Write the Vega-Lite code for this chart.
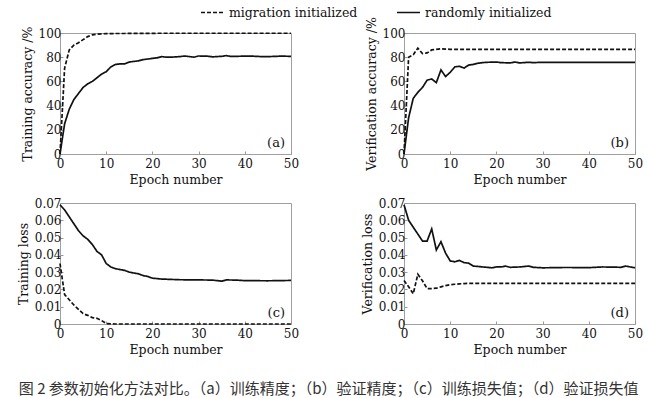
{
  "$schema": "https://vega.github.io/schema/vega-lite/v6.json",
  "autosize": {"type": "pad"},
  "padding": {"left": 16, "top": 0, "right": 4, "bottom": 0},
  "background": "white",
  "datasets": {
    "curves": [
      {"p": "a", "epoch": 0, "mig": 0, "rnd": 0},
      {"p": "a", "epoch": 1, "mig": 71, "rnd": 25},
      {"p": "a", "epoch": 2, "mig": 86, "rnd": 37},
      {"p": "a", "epoch": 3, "mig": 90, "rnd": 45},
      {"p": "a", "epoch": 4, "mig": 92, "rnd": 50},
      {"p": "a", "epoch": 5, "mig": 94.5, "rnd": 55},
      {"p": "a", "epoch": 6, "mig": 97, "rnd": 58},
      {"p": "a", "epoch": 7, "mig": 98.5, "rnd": 60},
      {"p": "a", "epoch": 8, "mig": 99, "rnd": 63},
      {"p": "a", "epoch": 9, "mig": 99.3, "rnd": 66},
      {"p": "a", "epoch": 10, "mig": 99.5, "rnd": 68},
      {"p": "a", "epoch": 11, "mig": 99.5, "rnd": 72},
      {"p": "a", "epoch": 12, "mig": 99.6, "rnd": 74},
      {"p": "a", "epoch": 13, "mig": 99.6, "rnd": 74.5},
      {"p": "a", "epoch": 14, "mig": 99.6, "rnd": 74.5},
      {"p": "a", "epoch": 15, "mig": 99.7, "rnd": 76},
      {"p": "a", "epoch": 16, "mig": 99.7, "rnd": 76.5},
      {"p": "a", "epoch": 17, "mig": 99.7, "rnd": 77},
      {"p": "a", "epoch": 18, "mig": 99.7, "rnd": 78},
      {"p": "a", "epoch": 19, "mig": 99.7, "rnd": 78.5},
      {"p": "a", "epoch": 20, "mig": 99.7, "rnd": 79},
      {"p": "a", "epoch": 21, "mig": 99.8, "rnd": 79.5},
      {"p": "a", "epoch": 22, "mig": 99.8, "rnd": 80.5},
      {"p": "a", "epoch": 23, "mig": 99.8, "rnd": 80},
      {"p": "a", "epoch": 24, "mig": 99.8, "rnd": 80},
      {"p": "a", "epoch": 26, "mig": 99.8, "rnd": 80.5},
      {"p": "a", "epoch": 27, "mig": 99.8, "rnd": 81},
      {"p": "a", "epoch": 29, "mig": 99.8, "rnd": 80},
      {"p": "a", "epoch": 30, "mig": 99.8, "rnd": 81},
      {"p": "a", "epoch": 32, "mig": 99.8, "rnd": 80.8},
      {"p": "a", "epoch": 33, "mig": 99.8, "rnd": 80.3},
      {"p": "a", "epoch": 35, "mig": 99.8, "rnd": 80.7},
      {"p": "a", "epoch": 36, "mig": 99.8, "rnd": 81.3},
      {"p": "a", "epoch": 37, "mig": 99.8, "rnd": 80.6},
      {"p": "a", "epoch": 40, "mig": 99.8, "rnd": 80.9},
      {"p": "a", "epoch": 42, "mig": 99.8, "rnd": 80.8},
      {"p": "a", "epoch": 44, "mig": 99.8, "rnd": 80.4},
      {"p": "a", "epoch": 46, "mig": 99.8, "rnd": 80.6},
      {"p": "a", "epoch": 48, "mig": 99.8, "rnd": 80.9},
      {"p": "a", "epoch": 50, "mig": 99.8, "rnd": 80.7},

      {"p": "b", "epoch": 0, "mig": 0, "rnd": 0},
      {"p": "b", "epoch": 1, "mig": 80, "rnd": 30},
      {"p": "b", "epoch": 2, "mig": 82, "rnd": 46},
      {"p": "b", "epoch": 3, "mig": 87.5, "rnd": 51},
      {"p": "b", "epoch": 4, "mig": 83, "rnd": 55},
      {"p": "b", "epoch": 5, "mig": 83.5, "rnd": 61},
      {"p": "b", "epoch": 6, "mig": 86, "rnd": 62},
      {"p": "b", "epoch": 7, "mig": 86.5, "rnd": 59},
      {"p": "b", "epoch": 8, "mig": 87, "rnd": 69.5},
      {"p": "b", "epoch": 9, "mig": 86.7, "rnd": 64},
      {"p": "b", "epoch": 10, "mig": 86.5, "rnd": 67.5},
      {"p": "b", "epoch": 11, "mig": 86.5, "rnd": 72},
      {"p": "b", "epoch": 12, "mig": 86.5, "rnd": 72.5},
      {"p": "b", "epoch": 13, "mig": 86.5, "rnd": 71},
      {"p": "b", "epoch": 14, "mig": 86.5, "rnd": 73.5},
      {"p": "b", "epoch": 15, "mig": 86.5, "rnd": 74},
      {"p": "b", "epoch": 16, "mig": 86.5, "rnd": 75},
      {"p": "b", "epoch": 17, "mig": 86.5, "rnd": 75.5},
      {"p": "b", "epoch": 18, "mig": 86.5, "rnd": 75.8},
      {"p": "b", "epoch": 20, "mig": 86.5, "rnd": 76},
      {"p": "b", "epoch": 21, "mig": 86.5, "rnd": 75.5},
      {"p": "b", "epoch": 23, "mig": 86.5, "rnd": 75.3},
      {"p": "b", "epoch": 24, "mig": 86.5, "rnd": 76},
      {"p": "b", "epoch": 25, "mig": 86.5, "rnd": 75.3},
      {"p": "b", "epoch": 27, "mig": 86.5, "rnd": 75.8},
      {"p": "b", "epoch": 28, "mig": 86.5, "rnd": 75.5},
      {"p": "b", "epoch": 30, "mig": 86.5, "rnd": 75.8},
      {"p": "b", "epoch": 40, "mig": 86.5, "rnd": 75.8},
      {"p": "b", "epoch": 50, "mig": 86.5, "rnd": 75.8},

      {"p": "c", "epoch": 0, "mig": 0.035, "rnd": 0.069},
      {"p": "c", "epoch": 1, "mig": 0.017, "rnd": 0.066},
      {"p": "c", "epoch": 2, "mig": 0.014, "rnd": 0.062},
      {"p": "c", "epoch": 3, "mig": 0.011, "rnd": 0.058},
      {"p": "c", "epoch": 4, "mig": 0.0085, "rnd": 0.054},
      {"p": "c", "epoch": 5, "mig": 0.006, "rnd": 0.051},
      {"p": "c", "epoch": 6, "mig": 0.005, "rnd": 0.049},
      {"p": "c", "epoch": 7, "mig": 0.0037, "rnd": 0.046},
      {"p": "c", "epoch": 8, "mig": 0.0033, "rnd": 0.042},
      {"p": "c", "epoch": 9, "mig": 0.002, "rnd": 0.04},
      {"p": "c", "epoch": 10, "mig": 0.0003, "rnd": 0.035},
      {"p": "c", "epoch": 11, "mig": 0.0001, "rnd": 0.033},
      {"p": "c", "epoch": 12, "mig": 0, "rnd": 0.032},
      {"p": "c", "epoch": 13, "mig": 0, "rnd": 0.0315},
      {"p": "c", "epoch": 14, "mig": 0, "rnd": 0.031},
      {"p": "c", "epoch": 15, "mig": 0, "rnd": 0.03},
      {"p": "c", "epoch": 16, "mig": 0, "rnd": 0.0295},
      {"p": "c", "epoch": 17, "mig": 0, "rnd": 0.029},
      {"p": "c", "epoch": 18, "mig": 0, "rnd": 0.028},
      {"p": "c", "epoch": 19, "mig": 0, "rnd": 0.0275},
      {"p": "c", "epoch": 20, "mig": 0, "rnd": 0.0265},
      {"p": "c", "epoch": 22, "mig": 0, "rnd": 0.026},
      {"p": "c", "epoch": 24, "mig": 0, "rnd": 0.0258},
      {"p": "c", "epoch": 26, "mig": 0, "rnd": 0.0256},
      {"p": "c", "epoch": 30, "mig": 0, "rnd": 0.0255},
      {"p": "c", "epoch": 33, "mig": 0, "rnd": 0.0254},
      {"p": "c", "epoch": 35, "mig": 0, "rnd": 0.0248},
      {"p": "c", "epoch": 36, "mig": 0, "rnd": 0.0255},
      {"p": "c", "epoch": 38, "mig": 0, "rnd": 0.0254},
      {"p": "c", "epoch": 40, "mig": 0, "rnd": 0.0251},
      {"p": "c", "epoch": 45, "mig": 0, "rnd": 0.025},
      {"p": "c", "epoch": 50, "mig": 0, "rnd": 0.0252},

      {"p": "d", "epoch": 0, "mig": 0.0252, "rnd": 0.069},
      {"p": "d", "epoch": 1, "mig": 0.0215, "rnd": 0.06},
      {"p": "d", "epoch": 2, "mig": 0.0175, "rnd": 0.056},
      {"p": "d", "epoch": 3, "mig": 0.0288, "rnd": 0.052},
      {"p": "d", "epoch": 4, "mig": 0.025, "rnd": 0.048},
      {"p": "d", "epoch": 5, "mig": 0.0205, "rnd": 0.048},
      {"p": "d", "epoch": 6, "mig": 0.0205, "rnd": 0.055},
      {"p": "d", "epoch": 7, "mig": 0.0207, "rnd": 0.0428},
      {"p": "d", "epoch": 8, "mig": 0.0215, "rnd": 0.0476},
      {"p": "d", "epoch": 9, "mig": 0.0222, "rnd": 0.041},
      {"p": "d", "epoch": 10, "mig": 0.0227, "rnd": 0.0365},
      {"p": "d", "epoch": 11, "mig": 0.023, "rnd": 0.036},
      {"p": "d", "epoch": 12, "mig": 0.0232, "rnd": 0.0368},
      {"p": "d", "epoch": 13, "mig": 0.0234, "rnd": 0.0355},
      {"p": "d", "epoch": 14, "mig": 0.0235, "rnd": 0.0352},
      {"p": "d", "epoch": 15, "mig": 0.0235, "rnd": 0.0335},
      {"p": "d", "epoch": 16, "mig": 0.0235, "rnd": 0.0333},
      {"p": "d", "epoch": 17, "mig": 0.0235, "rnd": 0.033},
      {"p": "d", "epoch": 18, "mig": 0.0235, "rnd": 0.0328},
      {"p": "d", "epoch": 19, "mig": 0.0235, "rnd": 0.0325},
      {"p": "d", "epoch": 20, "mig": 0.0235, "rnd": 0.033},
      {"p": "d", "epoch": 21, "mig": 0.0235, "rnd": 0.033},
      {"p": "d", "epoch": 22, "mig": 0.0235, "rnd": 0.0335},
      {"p": "d", "epoch": 23, "mig": 0.0235, "rnd": 0.0328},
      {"p": "d", "epoch": 25, "mig": 0.0235, "rnd": 0.033},
      {"p": "d", "epoch": 27, "mig": 0.0235, "rnd": 0.0335},
      {"p": "d", "epoch": 28, "mig": 0.0235, "rnd": 0.0328},
      {"p": "d", "epoch": 30, "mig": 0.0235, "rnd": 0.0325},
      {"p": "d", "epoch": 35, "mig": 0.0235, "rnd": 0.0327},
      {"p": "d", "epoch": 40, "mig": 0.0235, "rnd": 0.0326},
      {"p": "d", "epoch": 43, "mig": 0.0235, "rnd": 0.033},
      {"p": "d", "epoch": 47, "mig": 0.0235, "rnd": 0.0328},
      {"p": "d", "epoch": 48, "mig": 0.0235, "rnd": 0.0335},
      {"p": "d", "epoch": 50, "mig": 0.0235, "rnd": 0.0325}
    ],
    "labels": [
      {"p": "a", "epoch": 50, "value": 0, "label": "(a)"},
      {"p": "b", "epoch": 50, "value": 0, "label": "(b)"},
      {"p": "c", "epoch": 50, "value": 0, "label": "(c)"},
      {"p": "d", "epoch": 50, "value": 0, "label": "(d)"}
    ]
  },
  "bounds": "flush",
  "columns": 2,
  "spacing": {"row": 49, "column": 113},
  "concat": [
    {
      "width": 231, "height": 121,
      "layer": [
        {
          "data": {"name": "curves"},
          "transform": [{"filter": "datum.p == 'a'"}, {"fold": ["mig", "rnd"], "as": ["series", "value"]}],
          "mark": {"type": "line", "color": "#111", "strokeWidth": 1.7},
          "encoding": {
            "x": {"field": "epoch", "type": "quantitative", "scale": {"domain": [0, 50], "nice": false}, "axis": {"title": "Epoch number", "values": [0, 10, 20, 30, 40, 50], "tickCount": 10}},
            "y": {"field": "value", "type": "quantitative", "scale": {"domain": [0, 100], "nice": false}, "axis": {"title": "Training accuracy /%", "values": [0, 20, 40, 60, 80, 100], "tickCount": 10}},
            "strokeDash": {"field": "series", "type": "nominal", "scale": {"domain": ["mig", "rnd"], "range": [[4, 2], [1, 0]]},
              "legend": {"orient": "none", "legendX": 140, "legendY": -33, "direction": "horizontal", "title": null, "labelExpr": "datum.label == 'mig' ? 'migration initialized' : 'randomly initialized'"}}
          }
        },
        {
          "data": {"name": "labels"},
          "transform": [{"filter": "datum.p == 'a'"}],
          "mark": {"type": "text", "align": "right", "baseline": "bottom", "dx": -6, "dy": -4, "fontSize": 13, "font": "DejaVu Serif", "color": "#111"},
          "encoding": {"x": {"field": "epoch", "type": "quantitative"}, "y": {"field": "value", "type": "quantitative"}, "text": {"field": "label"}}
        }
      ]
    },
    {
      "width": 231, "height": 121,
      "layer": [
        {
          "data": {"name": "curves"},
          "transform": [{"filter": "datum.p == 'b'"}, {"fold": ["mig", "rnd"], "as": ["series", "value"]}],
          "mark": {"type": "line", "color": "#111", "strokeWidth": 1.7},
          "encoding": {
            "x": {"field": "epoch", "type": "quantitative", "scale": {"domain": [0, 50], "nice": false}, "axis": {"title": "Epoch number", "values": [0, 10, 20, 30, 40, 50], "tickCount": 10}},
            "y": {"field": "value", "type": "quantitative", "scale": {"domain": [0, 100], "nice": false}, "axis": {"title": "Verification accuracy /%", "values": [0, 20, 40, 60, 80, 100], "tickCount": 10}},
            "strokeDash": {"field": "series", "type": "nominal", "scale": {"domain": ["mig", "rnd"], "range": [[4, 2], [1, 0]]}}
          }
        },
        {
          "data": {"name": "labels"},
          "transform": [{"filter": "datum.p == 'b'"}],
          "mark": {"type": "text", "align": "right", "baseline": "bottom", "dx": -6, "dy": -4, "fontSize": 13, "font": "DejaVu Serif", "color": "#111"},
          "encoding": {"x": {"field": "epoch", "type": "quantitative"}, "y": {"field": "value", "type": "quantitative"}, "text": {"field": "label"}}
        }
      ]
    },
    {
      "width": 231, "height": 121,
      "layer": [
        {
          "data": {"name": "curves"},
          "transform": [{"filter": "datum.p == 'c'"}, {"fold": ["mig", "rnd"], "as": ["series", "value"]}],
          "mark": {"type": "line", "color": "#111", "strokeWidth": 1.7},
          "encoding": {
            "x": {"field": "epoch", "type": "quantitative", "scale": {"domain": [0, 50], "nice": false}, "axis": {"title": "Epoch number", "values": [0, 10, 20, 30, 40, 50], "tickCount": 10}},
            "y": {"field": "value", "type": "quantitative", "scale": {"domain": [0, 0.07], "nice": false}, "axis": {"title": "Training loss", "values": [0, 0.01, 0.02, 0.03, 0.04, 0.05, 0.06, 0.07], "format": "~g", "tickCount": 10}},
            "strokeDash": {"field": "series", "type": "nominal", "scale": {"domain": ["mig", "rnd"], "range": [[4, 2], [1, 0]]}}
          }
        },
        {
          "data": {"name": "labels"},
          "transform": [{"filter": "datum.p == 'c'"}],
          "mark": {"type": "text", "align": "right", "baseline": "bottom", "dx": -6, "dy": -4, "fontSize": 13, "font": "DejaVu Serif", "color": "#111"},
          "encoding": {"x": {"field": "epoch", "type": "quantitative"}, "y": {"field": "value", "type": "quantitative"}, "text": {"field": "label"}}
        }
      ]
    },
    {
      "width": 231, "height": 121,
      "layer": [
        {
          "data": {"name": "curves"},
          "transform": [{"filter": "datum.p == 'd'"}, {"fold": ["mig", "rnd"], "as": ["series", "value"]}],
          "mark": {"type": "line", "color": "#111", "strokeWidth": 1.7},
          "encoding": {
            "x": {"field": "epoch", "type": "quantitative", "scale": {"domain": [0, 50], "nice": false}, "axis": {"title": "Epoch number", "values": [0, 10, 20, 30, 40, 50], "tickCount": 10}},
            "y": {"field": "value", "type": "quantitative", "scale": {"domain": [0, 0.07], "nice": false}, "axis": {"title": "Verification loss", "values": [0, 0.01, 0.02, 0.03, 0.04, 0.05, 0.06, 0.07], "format": "~g", "tickCount": 10}},
            "strokeDash": {"field": "series", "type": "nominal", "scale": {"domain": ["mig", "rnd"], "range": [[4, 2], [1, 0]]}}
          }
        },
        {
          "data": {"name": "labels"},
          "transform": [{"filter": "datum.p == 'd'"}],
          "mark": {"type": "text", "align": "right", "baseline": "bottom", "dx": -6, "dy": -4, "fontSize": 13, "font": "DejaVu Serif", "color": "#111"},
          "encoding": {"x": {"field": "epoch", "type": "quantitative"}, "y": {"field": "value", "type": "quantitative"}, "text": {"field": "label"}}
        }
      ]
    }
  ],
  "resolve": {
    "scale": {"x": "independent", "y": "independent", "strokeDash": "shared"},
    "legend": {"strokeDash": "shared"}
  },
  "title": {
    "text": "图 2  参数初始化方法对比。（a）训练精度；（b）验证精度；（c）训练损失值；（d）验证损失值",
    "orient": "bottom",
    "anchor": "start",
    "font": "Noto Sans CJK SC",
    "fontSize": 15,
    "fontWeight": "normal",
    "color": "#333",
    "offset": 26,
    "dx": 2
  },
  "config": {
    "font": "DejaVu Serif",
    "view": {"stroke": "#a0a0a0", "strokeWidth": 1},
    "axis": {
      "domain": false,
      "grid": false,
      "labelFont": "DejaVu Serif",
      "labelFontSize": 12,
      "labelColor": "#111",
      "titleFont": "DejaVu Serif",
      "titleFontSize": 12.5,
      "titleFontWeight": "normal",
      "titleColor": "#111",
      "tickColor": "#999",
      "tickSize": -3,
      "titlePadding": 4,
      "labelFlush": false,
      "labelOverlap": false
    },
    "axisX": {"labelPadding": 7},
    "axisY": {"labelPadding": 2},
    "legend": {
      "symbolType": "stroke",
      "symbolSize": 529,
      "symbolStrokeWidth": 1.6,
      "symbolStrokeColor": "#111",
      "labelFont": "DejaVu Serif",
      "labelFontSize": 12.5,
      "labelColor": "#111",
      "labelOffset": 4,
      "columnPadding": 35
    }
  }
}
